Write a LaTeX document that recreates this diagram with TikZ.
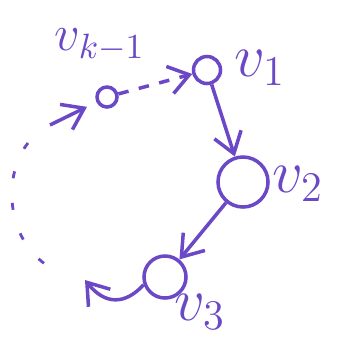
\documentclass[tikz,border=0pt]{standalone}
\usetikzlibrary{arrows.meta,positioning}
\definecolor{Ink}{HTML}{6A48C6}
\tikzset{
  vert/.style={circle,draw=Ink,line width=1pt,inner sep=0pt},
  vlabel/.style={text=Ink,font=\LARGE},
  arrow/.style={-{Straight Barb[length=2mm,width=2.8mm]},draw=Ink,line width=1pt},
  dashedarrow/.style={arrow,dash pattern=on 3pt off 3pt},
  dotted path/.style={draw=Ink,line width=.8pt,dash pattern=on 2pt off 7pt}
}
\begin{document}
\begin{tikzpicture}[x=0.01cm,y=-0.01cm]
        \useasboundingbox (0,0) rectangle (355,336);
        \node[vert,minimum size=.2cm] (vk) at (107,97) {};
        \node[vert,minimum size=.27cm] (v1) at (207,70) {};
        \node[vert,minimum size=.5cm] (v2) at (243,182) {};
        \node[vert,minimum size=.42cm] (v3) at (165,277) {};
        \node[vlabel,font=\Large] (lk) at (100,45) {$v_{k-1}$};
        \node[vlabel] (l1) at (260,68) {$v_1$};
        \node[vlabel] (l2) at (298,184) {$v_2$};
        \node[vlabel] (l3) at (200,312) {$v_3$};
        \coordinate (in) at (50,125);
        \coordinate (out) at (85,280);
        \coordinate (gapa) at (28,143);
        \coordinate (gapb) at (55,270);
        \draw[arrow,shorten >=3pt] (in) -- (vk);
        \draw[dashedarrow] (vk) -- (v1);
        \draw[arrow] (v1) -- (v2);
        \draw[arrow] (v2) -- (v3);
        \draw[arrow] (v3.200) .. controls (125,305) and (105,305) .. (out);
        \draw[dotted path] (gapa) .. controls (2,175) and (5,245) .. (gapb);
      \end{tikzpicture}
\end{document}
